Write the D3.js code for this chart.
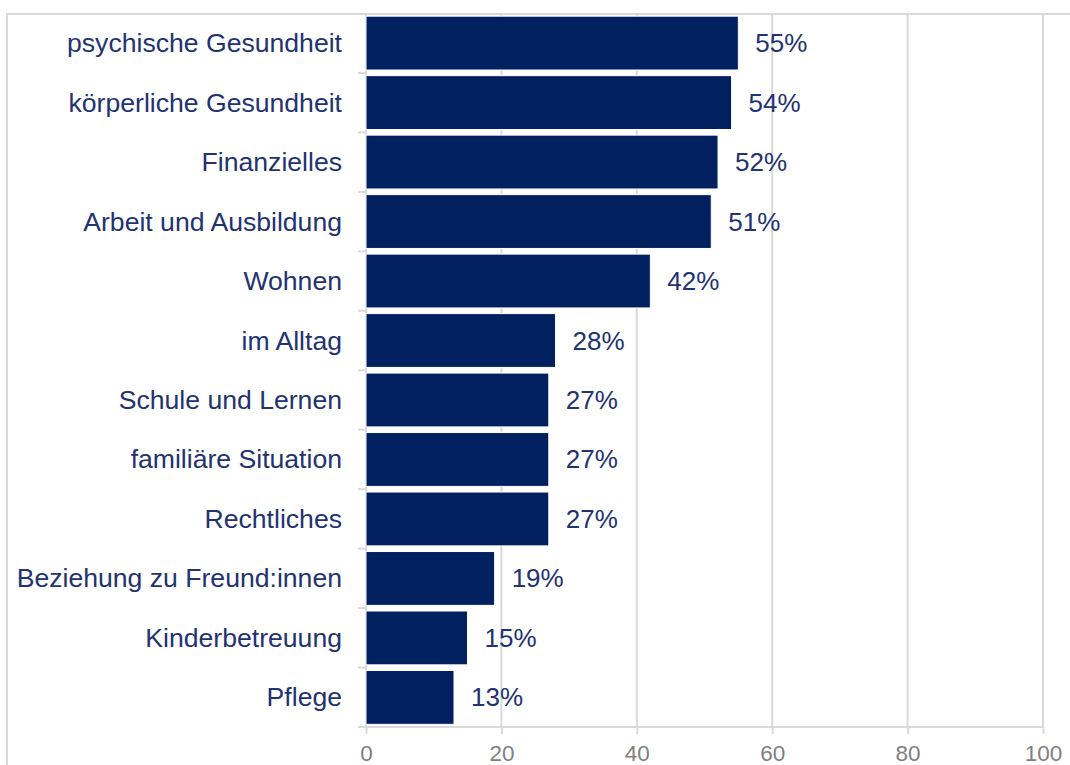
<!DOCTYPE html>
<html>
<head>
<meta charset="utf-8">
<script src="https://cdn.jsdelivr.net/npm/d3@7"></script>
<style>
  html, body { margin: 0; padding: 0; background: #fff; }
  svg { display: block; font-family: "Liberation Sans", Arial, sans-serif; }
</style>
</head>
<body>
<svg id="chart" width="1070" height="765"></svg>
<script>
// Support areas named by respondents (share in %)
const categories = [
  "psychische Gesundheit",
  "körperliche Gesundheit",
  "Finanzielles",
  "Arbeit und Ausbildung",
  "Wohnen",
  "im Alltag",
  "Schule und Lernen",
  "familiäre Situation",
  "Rechtliches",
  "Beziehung zu Freund:innen",
  "Kinderbetreuung",
  "Pflege"
];
const values = [55, 54, 52, 51, 42, 28, 27, 27, 27, 19, 15, 13];
const xTicks = [0, 20, 40, 60, 80, 100];

const svg = d3.select("#chart");
const gridColor = "#d9d9d9";
const barColor = "#002060";
const textColor = "#233270";

const plot = { left: 366, right: 1043, top: 13.5, bottom: 727 };

const x = d3.scaleLinear().domain([0, 100]).range([plot.left, plot.right]);
const y = d3.scaleBand().domain(categories).range([plot.top, plot.bottom]).paddingInner(0.095).paddingOuter(0.045);

// Outer frame (top and left edges visible)
svg.append("path")
  .attr("d", `M7,${765 + 5} L7,14 L${1070 + 5},14`)
  .attr("fill", "none").attr("stroke", gridColor).attr("stroke-width", 2);

// Vertical gridlines
svg.append("g")
  .selectAll("line")
  .data(xTicks.filter(t => t > 0))
  .join("line")
  .attr("x1", d => x(d)).attr("x2", d => x(d))
  .attr("y1", plot.top).attr("y2", plot.bottom)
  .attr("stroke", gridColor).attr("stroke-width", 2);

// Bottom axis
const xAxis = svg.append("g")
  .attr("transform", `translate(0,${plot.bottom})`)
  .call(d3.axisBottom(x).tickValues(xTicks).tickSize(7).tickPadding(11).tickSizeOuter(0));
xAxis.select(".domain").remove();
xAxis.append("line")
  .attr("x1", 358).attr("x2", plot.right)
  .attr("stroke", gridColor).attr("stroke-width", 2);
xAxis.selectAll(".tick line").attr("stroke", gridColor).attr("stroke-width", 2);
xAxis.selectAll(".tick text")
  .attr("fill", "#7f7f7f")
  .style("font-size", "22.5px")
  .style("font-family", "'Liberation Sans', Arial, sans-serif");

// Left axis line and category separators
const boundaries = d3.range(categories.length + 1).map(i => plot.top + i * (plot.bottom - plot.top) / categories.length);
svg.append("line")
  .attr("x1", plot.left).attr("x2", plot.left)
  .attr("y1", plot.top).attr("y2", plot.bottom)
  .attr("stroke", gridColor).attr("stroke-width", 2);
svg.append("g")
  .selectAll("line")
  .data(boundaries.slice(1))
  .join("line")
  .attr("x1", 358).attr("x2", plot.left)
  .attr("y1", d => d).attr("y2", d => d)
  .attr("stroke", gridColor).attr("stroke-width", 2);

// Bars
svg.append("g")
  .selectAll("rect")
  .data(values)
  .join("rect")
  .attr("x", x(0))
  .attr("y", (d, i) => y(categories[i]))
  .attr("width", d => x(d) - x(0))
  .attr("height", y.bandwidth())
  .attr("fill", barColor)
  .attr("stroke", "#ffffff")
  .attr("stroke-width", 1);

// Category labels
svg.append("g")
  .selectAll("text")
  .data(categories)
  .join("text")
  .attr("x", 342)
  .attr("y", d => y(d) + y.bandwidth() / 2)
  .attr("text-anchor", "end")
  .attr("dominant-baseline", "central")
  .attr("fill", textColor)
  .style("font-size", "26.6px")
  .text(d => d);

// Value labels
svg.append("g")
  .selectAll("text")
  .data(values)
  .join("text")
  .attr("x", d => x(d) + 17)
  .attr("y", (d, i) => y(categories[i]) + y.bandwidth() / 2)
  .attr("dominant-baseline", "central")
  .attr("fill", textColor)
  .style("font-size", "26px")
  .text(d => d + "%");
</script>
</body>
</html>
